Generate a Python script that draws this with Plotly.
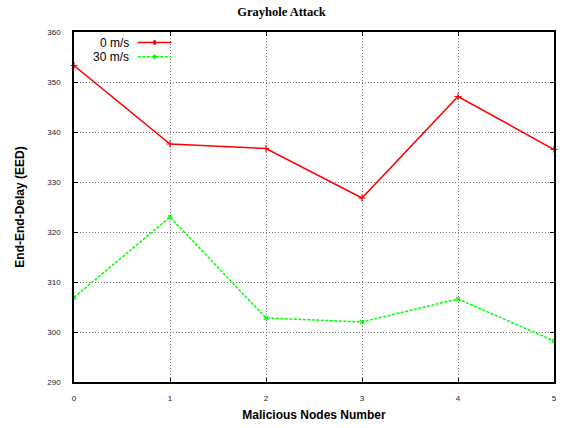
import plotly.graph_objects as go

nodes = [0, 1, 2, 3, 4, 5]
eed_0ms = [353.3, 337.6, 336.7, 326.8, 347.1, 336.5]
eed_30ms = [306.9, 323.0, 302.8, 302.0, 306.6, 298.2]
series_names = ["0 m/s", "30 m/s"]
y_ticks = [290, 300, 310, 320, 330, 340, 350, 360]

fig = go.Figure()
fig.add_trace(go.Scatter(
    x=nodes, y=eed_0ms, name=series_names[0], mode="lines+markers",
    line=dict(color="#ff0000", width=1.5),
    marker=dict(symbol="cross-thin", size=5, line=dict(color="#ff0000", width=1.2)),
    cliponaxis=False,
))
fig.add_trace(go.Scatter(
    x=nodes, y=eed_30ms, name=series_names[1], mode="lines+markers",
    line=dict(color="#00ff00", width=1.5, dash="3px,1.5px"),
    marker=dict(symbol="x-thin", size=4, line=dict(color="#00ff00", width=1.5)),
    cliponaxis=False,
))

# legend drawn gnuplot-style: text on the left, sample line on the right
legend_rows = [
    (series_names[0], "#ff0000", "solid", 0.970),
    (series_names[1], "#00ff00", "3px,1.5px", 0.929),
]
for text, color, dash, yp in legend_rows:
    fig.add_annotation(x=0.118, y=yp, xref="paper", yref="paper", text=text,
                       showarrow=False, xanchor="right", yanchor="middle",
                       font=dict(family="Liberation Sans, Arial", size=12, color="black"))
    fig.add_shape(type="line", xref="paper", yref="paper", x0=0.133, x1=0.203,
                  y0=yp, y1=yp, line=dict(color=color, width=1.5, dash=dash))
    fig.add_shape(type="rect", xref="paper", yref="paper", x0=0.166, x1=0.170,
                  y0=yp - 0.005, y1=yp + 0.005, line=dict(color=color, width=1),
                  fillcolor=color)

axis_common = dict(
    showline=True, linecolor="black", linewidth=1.5, mirror="ticks",
    ticks="inside", ticklen=4, tickcolor="black",
    showgrid=True, gridcolor="#777777", griddash="1px,2px", gridwidth=1,
    zeroline=False,
    tickfont=dict(family="Liberation Sans, Arial", size=8, color="#222222"),
)

fig.update_layout(
    width=563, height=428,
    margin=dict(l=74, r=6, t=32, b=46),
    paper_bgcolor="white", plot_bgcolor="white",
    showlegend=False,
    title=dict(text="<b>Grayhole Attack</b>", x=0.5, xanchor="center", y=0.972, yanchor="middle",
               font=dict(family="Liberation Serif, Times New Roman", size=12.5, color="black")),
    xaxis=dict(range=[0, 5], tickvals=nodes, ticklabelstandoff=8,
               title=dict(text="<b>Malicious Nodes Number</b>", standoff=8,
                          font=dict(family="Liberation Sans, Arial", size=12, color="black")),
               **axis_common),
    yaxis=dict(range=[290, 360], tickvals=y_ticks, ticklabelstandoff=10,
               title=dict(text="<b>End-End-Delay (EED)</b>", standoff=20,
                          font=dict(family="Liberation Sans, Arial", size=12, color="black")),
               **axis_common),
)

fig.write_html("out.html")
